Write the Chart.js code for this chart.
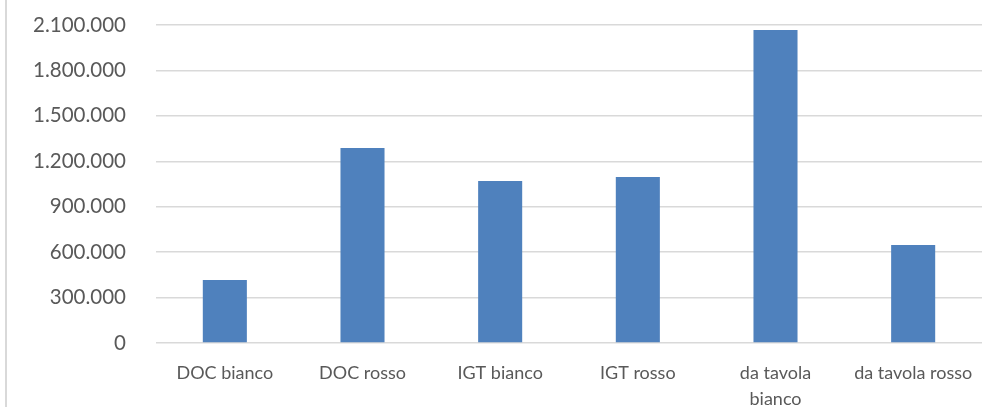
<!DOCTYPE html>
<html>
<head>
<meta charset="utf-8">
<script src="https://cdn.jsdelivr.net/npm/chart.js@4/dist/chart.umd.min.js"></script>
<style>
  html, body { margin: 0; padding: 0; background: #fff; }
  #wrap { position: relative; width: 982px; height: 407px; }
  #frame { position: absolute; left: 5px; top: 0; width: 2px; height: 407px; background: #d9d9d9; }
  canvas { position: absolute; left: 0; top: 0; }
</style>
</head>
<body>
<div id="wrap">
  <div id="frame"></div>
  <canvas id="c" width="982" height="407"></canvas>
</div>
<script>
const categories = ["DOC bianco", "DOC rosso", "IGT bianco", "IGT rosso", ["da tavola", "bianco"], "da tavola rosso"];
const values = [416000, 1288000, 1070000, 1096000, 2067000, 647000];
const yTickValues = [0, 300000, 600000, 900000, 1200000, 1500000, 1800000, 2100000];

function fmt(v) {
  return String(Math.round(v)).replace(/\B(?=(\d{3})+(?!\d))/g, ".");
}

new Chart(document.getElementById("c"), {
  type: "bar",
  data: {
    labels: categories,
    datasets: [{
      data: values,
      backgroundColor: "#4f81bd",
      borderWidth: 0,
      categoryPercentage: 1,
      barPercentage: 0.32
    }]
  },
  options: {
    responsive: false,
    animation: false,
    devicePixelRatio: 1,
    layout: { padding: { top: 25, right: 0, bottom: 0, left: 0 } },
    plugins: { legend: { display: false }, tooltip: { enabled: false } },
    scales: {
      x: {
        grid: { display: false, drawTicks: false },
        border: { display: false },
        ticks: {
          color: "#595959",
          font: { family: "Lato", size: 18, lineHeight: 1.45 },
          padding: 17,
          maxRotation: 0,
          autoSkip: false
        },
        afterFit(axis) { axis.height = 64; axis.paddingLeft = 0; axis.paddingRight = 0; }
      },
      y: {
        min: 0,
        max: 2100000,
        afterBuildTicks(axis) { axis.ticks = yTickValues.map(v => ({ value: v })); },
        grid: { color: "#d9d9d9", lineWidth: 1.5, drawTicks: false },
        border: { display: false },
        ticks: {
          color: "#595959",
          font: { family: "Lato", size: 20.5 },
          padding: 30,
          callback: (v) => fmt(v)
        },
        afterFit(axis) { axis.width = 156; axis.paddingTop = 0; axis.paddingBottom = 0; }
      }
    }
  }
});
</script>
</body>
</html>
